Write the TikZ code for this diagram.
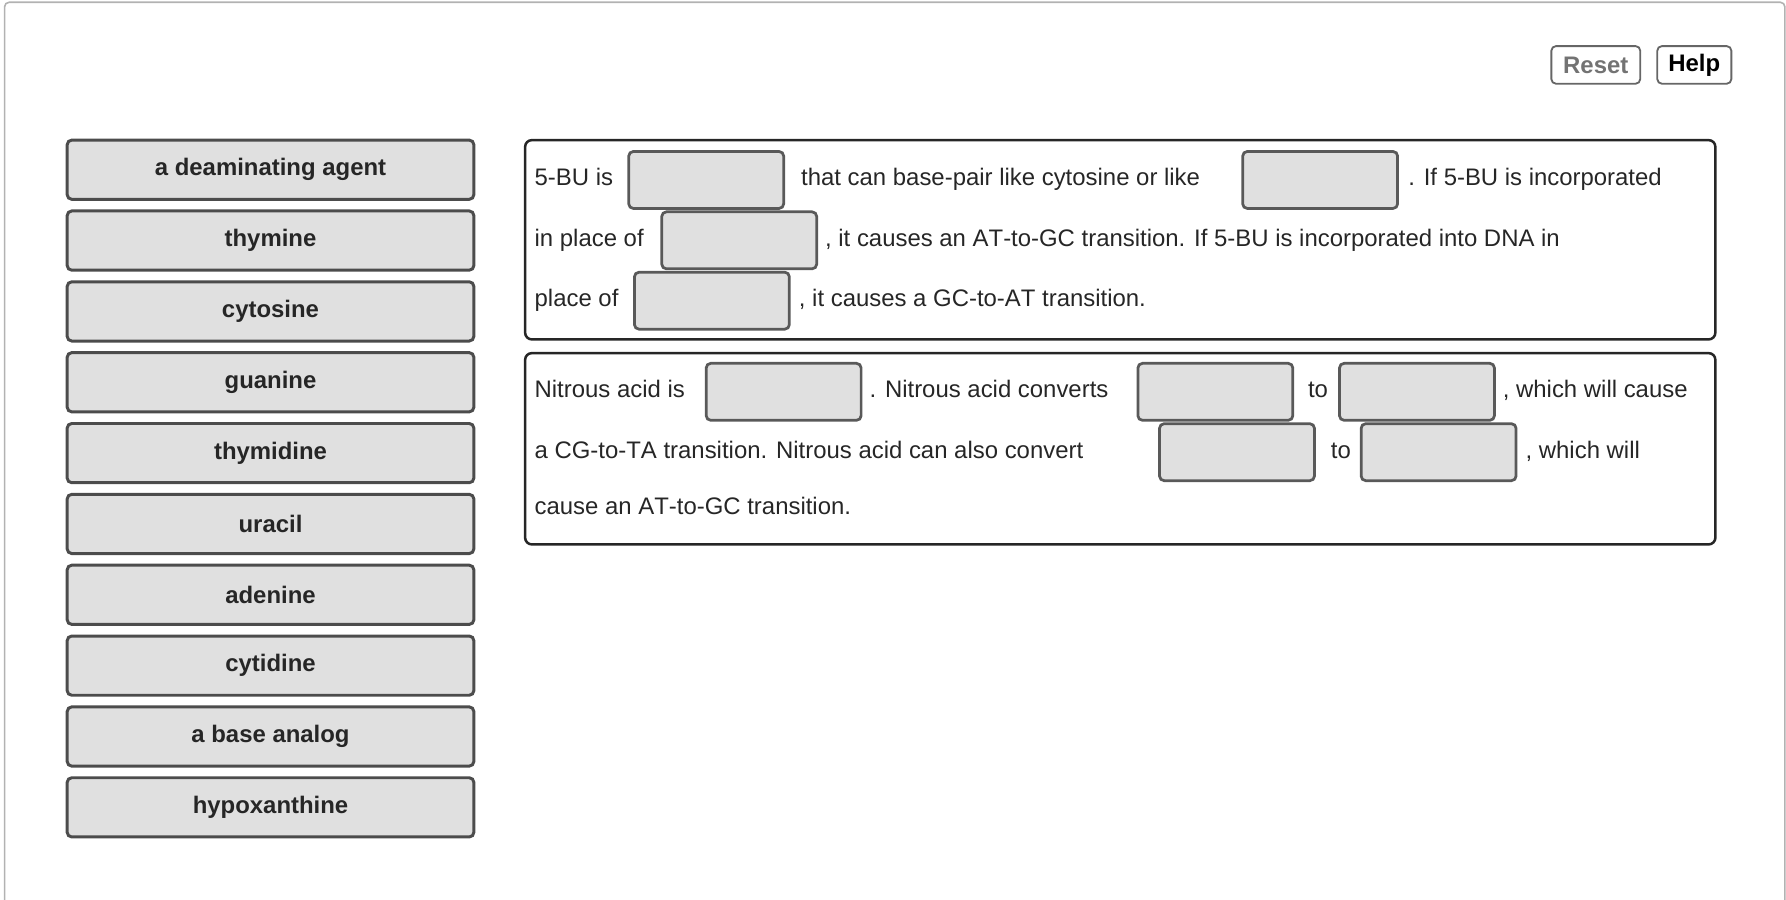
\documentclass[tikz,border=0pt]{standalone}
\usepackage{fontspec}
\setmainfont{Liberation Sans}
\begin{document}
\begin{tikzpicture}[x=0.5pt,y=-0.5pt,
 item/.style={draw=black!70,line width=1.3pt,fill=black!12,rounded corners=2pt,minimum width=178.5pt,minimum height=26pt,font=\bfseries\fontsize{10.5}{12}\selectfont,text=black!85},
 blank/.style={draw=black!65,line width=1.2pt,fill=black!12,rounded corners=2pt,minimum width=68pt,minimum height=25pt,inner sep=0pt},
 panel/.style={draw=black!85,line width=1.1pt,rounded corners=3pt},
 txt/.style={anchor=mid west,inner sep=0pt,font=\fontsize{10.5}{12}\selectfont,text=black!85},
 btn/.style={draw=black!60,line width=0.8pt,rounded corners=2pt,font=\bfseries\fontsize{10.5}{12}\selectfont,minimum height=16.5pt,inner sep=2pt}]
\useasboundingbox (0,0) rectangle (1568,790);
\draw[black!30,line width=0.7pt,rounded corners=2pt] (4,2) rectangle (1567,800);
\node[btn,text=black!55,minimum width=39pt] (reset) at (1401,57) {Reset};
\node[btn,text=black,minimum width=32.5pt] (help) at (1487.5,57) {Help};
\foreach \t [count=\i] in {a deaminating agent,thymine,cytosine,guanine,thymidine,uracil,adenine,cytidine,a base analog,hypoxanthine}
  \node[item] (it\i) at (237.5,{149+62.2*(\i-1)}) {\t};
\draw[panel] (461,123) rectangle (1506,298);
\draw[panel] (461,310) rectangle (1506,478);
% box 1
\node[blank] (b1) at (620,158) {};
\node[blank] (b2) at (1159,158) {};
\node[blank] (b3) at (649,211) {};
\node[blank] (b4) at (625,264) {};
\node[txt] (t1) at (469,158) {5-BU is};
\node[txt] (t2) at (703,158) {that can base-pair like cytosine or like};
\node[txt] (t3) at (1236,158) {. If 5-BU is incorporated};
\node[txt] (t4) at (469,211) {in place of};
\node[txt] (t5) at (724,211) {, it causes an $\mathrm{AT}$-to-$\mathrm{GC}$ transition. If 5-BU is incorporated into $\mathrm{DNA}$ in};
\node[txt] (t6) at (469,264) {place of};
\node[txt] (t7) at (701,264) {, it causes a $\mathrm{GC}$-to-$\mathrm{AT}$ transition.};
% box 2
\node[blank] (c1) at (688,344) {};
\node[blank] (c2) at (1067,344) {};
\node[blank] (c3) at (1244,344) {};
\node[blank] (c4) at (1086,397) {};
\node[blank] (c5) at (1263,397) {};
\node[txt] (s1) at (469,344) {Nitrous acid is};
\node[txt] (s2) at (763,344) {. Nitrous acid converts};
\node[txt] (s3) at (1148,344) {to};
\node[txt] (s4) at (1319,344) {, which will cause};
\node[txt] (s5) at (469,397) {a $\mathrm{CG}$-to-$\mathrm{TA}$ transition. Nitrous acid can also convert};
\node[txt] (s6) at (1168,397) {to};
\node[txt] (s7) at (1339,397) {, which will};
\node[txt] (s8) at (469,446) {cause an $\mathrm{AT}$-to-$\mathrm{GC}$ transition.};
\end{tikzpicture}
\end{document}
